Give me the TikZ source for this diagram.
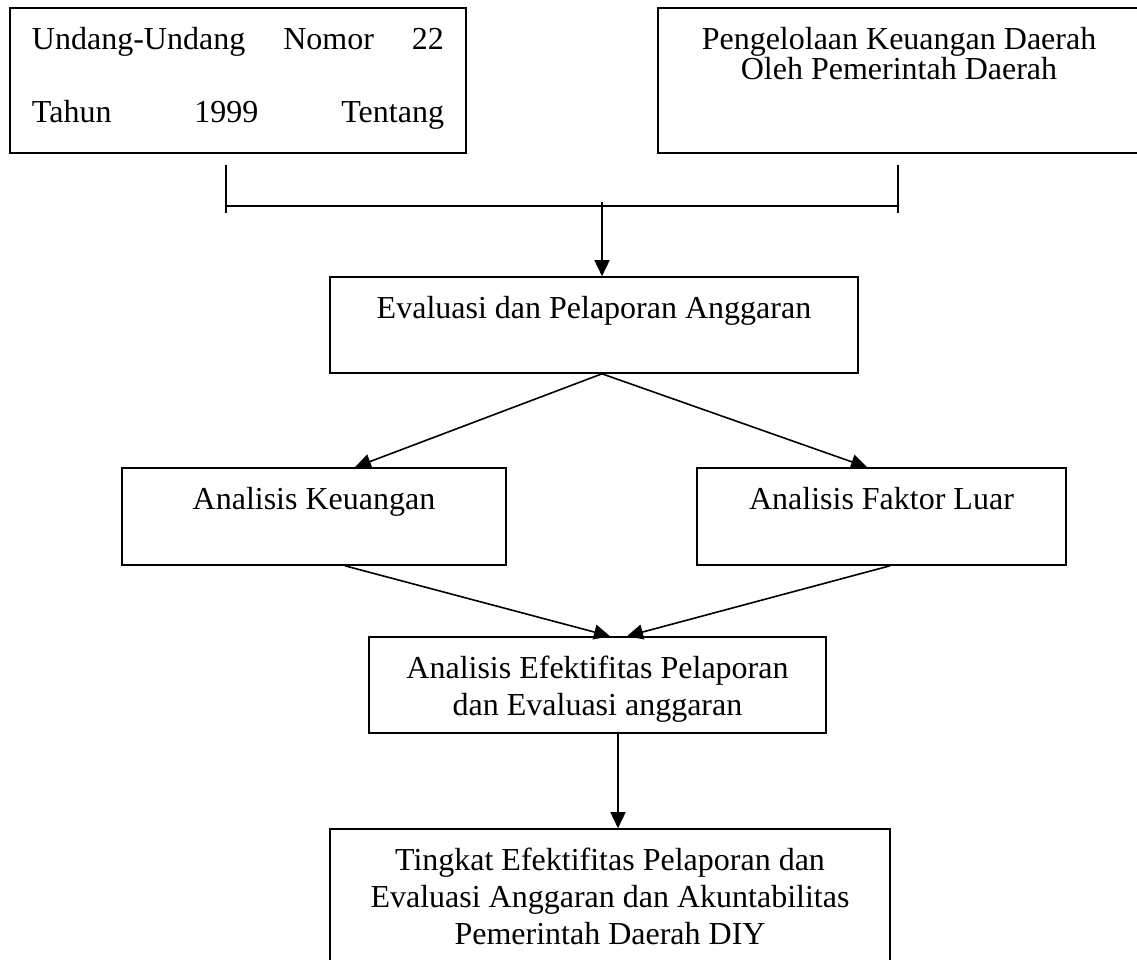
\documentclass[tikz,border=0pt]{standalone}
\usepackage{fontspec}
\setmainfont{Liberation Serif}
\usetikzlibrary{positioning,arrows.meta,calc}

% isi kotak: lebar, tinggi, teks (rata atas)
\newcommand{\isikotak}[3]{\parbox[t][#2][t]{#1}{\centering\rule{0pt}{20.75pt}#3}}

\begin{document}
\begin{tikzpicture}[x=0.5pt,y=-0.5pt]
\tikzstyle{every path}=[line width=0.8pt]
\tikzstyle{kotak}=[draw,inner sep=0pt,font=\fontsize{16}{18.5}\selectfont]
\tikzstyle{panah}=[-{Triangle[length=8pt,width=7.5pt]}]

\useasboundingbox (0,0) rectangle (1137,960);

%% Kotak atas
\node [kotak] (uu) at (238,80.5) {\isikotak{228pt}{72.5pt}{%
    \makebox[206pt]{Undang-Undang\hfill Nomor\hfill 22}\\[18pt]
    \makebox[206pt]{Tahun\hfill 1999\hfill Tentang}}};
\node [kotak] (pkd) at (899,80.5) {\isikotak{241pt}{72.5pt}{%
    Pengelolaan Keuangan Daerah\\[-3.5pt]Oleh Pemerintah Daerah}};

%% Garis gabungan
\coordinate (kiri) at (226,206);
\coordinate (kanan) at (898,206);
\coordinate (gabung) at (602,206);
\draw (kiri) -- (kanan);
\draw ([yshift=20.5pt]kiri) -- ([yshift=-3.5pt]kiri);
\draw ([yshift=20.5pt]kanan) -- ([yshift=-3.5pt]kanan);

%% Kotak tengah
\node [kotak] (epa) at (594,325) {\isikotak{264pt}{48pt}{%
    Evaluasi dan Pelaporan Anggaran}};
\node [kotak] (ak) at (314,516.5) {\isikotak{192pt}{48.5pt}{%
    Analisis Keuangan}};
\node [kotak] (afl) at (881.5,516.5) {\isikotak{184.5pt}{48.5pt}{%
    Analisis Faktor Luar}};
\node [kotak] (aep) at (597.5,685) {\isikotak{228.5pt}{48pt}{%
    Analisis Efektifitas Pelaporan\\dan Evaluasi anggaran}};

%% Kotak bawah
\node [kotak] (tep) at (610,897) {\isikotak{280pt}{68pt}{%
    Tingkat Efektifitas Pelaporan dan\\
    Evaluasi Anggaran dan Akuntabilitas\\
    Pemerintah Daerah DIY}};

%% Panah
\draw [panah] ([yshift=2pt]gabung) -- (gabung |- epa.north);
\coordinate (puncak) at (gabung |- epa.south);
\draw [panah] (puncak) -- ([xshift=20.5pt]ak.north);
\draw [panah] (puncak) -- ([xshift=-7.25pt]afl.north);
\draw [panah] ([xshift=15.5pt]ak.south) -- ([xshift=6.25pt]aep.north);
\draw [panah] ([xshift=4.25pt]afl.south) -- ([xshift=14.75pt]aep.north);
\draw [panah] ([xshift=10.25pt]aep.south) -- ([xshift=10.25pt]aep.south |- tep.north);

\end{tikzpicture}
\end{document}
